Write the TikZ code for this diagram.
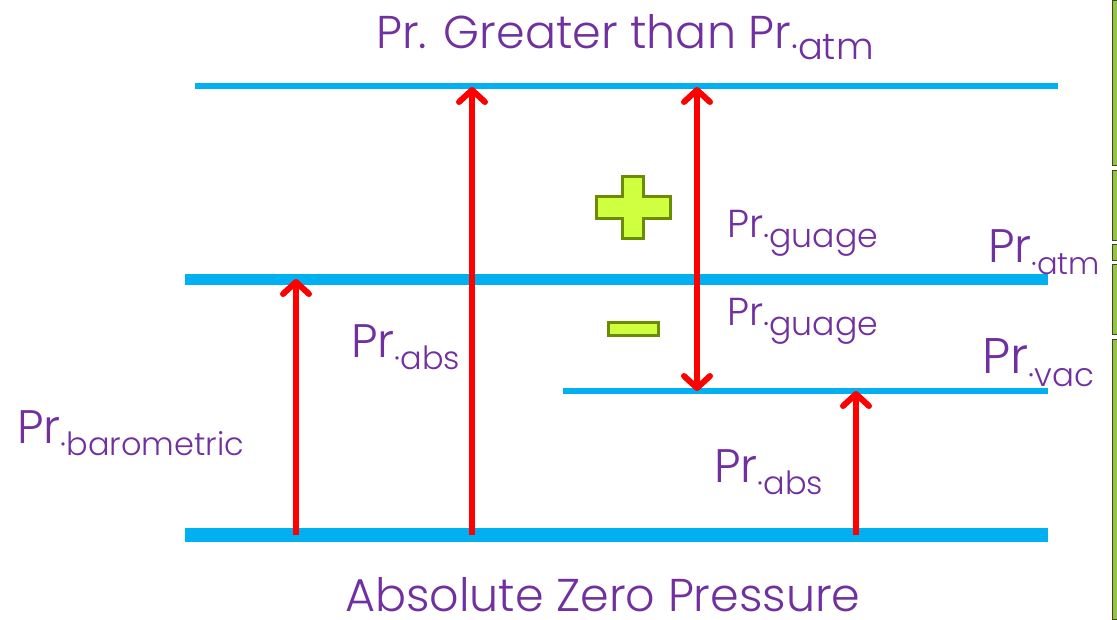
\documentclass[tikz,border=0pt]{standalone}
\usepackage{fontspec}
\setmainfont{Poppins}[UprightFont=* Light]
\usepackage{graphicx}
\usetikzlibrary{arrows.meta}
\definecolor{cline}{RGB}{  0,176,240}
\definecolor{ctext}{RGB}{112, 48,160}
\definecolor{carrow}{RGB}{255,  0,  0}
\definecolor{csignf}{RGB}{208,255, 64}
\definecolor{csignd}{RGB}{108,140,  0}
\definecolor{cbarf}{RGB}{150,195, 70}
\definecolor{cbard}{RGB}{ 60, 70, 40}
% pressure label: "Pr" with a lowered, smaller ".sub"
\newcommand{\prlab}[2][0.65]{Pr\raisebox{-0.26em}{\scalebox{#1}{·#2}}}
\tikzset{
  level/.style={cline,line cap=butt},
  parrow/.style={carrow,line width=6pt,-{Straight Barb[length=12pt,width=26pt,round]}},
  pdarrow/.style={carrow,line width=6pt,{Straight Barb[length=12pt,width=26pt,round]}-{Straight Barb[length=12pt,width=26pt,round]}},
  plabel/.style={ctext,anchor=base west,inner sep=0pt,text depth=0pt},
  sign/.style={fill=csignf,draw=csignd,line width=3pt}
}

\begin{document}
\begin{tikzpicture}[x=1pt,y=-1pt]

  % Explicit bounding box, same size as the slide crop.
  \useasboundingbox (0,0) rectangle (1117,619);

  % ---------------- Pressure levels ----------------
  \coordinate (topL) at (195,86);   \coordinate (topR) at (1058,86);
  \coordinate (atmL) at (185,279);  \coordinate (atmR) at (1048,279);
  \coordinate (vacL) at (563,391);  \coordinate (vacR) at (1048,391);
  \coordinate (zeroL) at (185,535); \coordinate (zeroR) at (1048,535);
  \draw[level,line width=6pt]  (topL) -- (topR);
  \draw[level,line width=11pt] (atmL) -- (atmR);
  \draw[level,line width=6pt]  (vacL) -- (vacR);
  \draw[level,line width=14pt] (zeroL) -- (zeroR);

  % ---------------- Arrows ----------------
  \coordinate (baroB) at (296,535); \coordinate (baroT) at (296,279);
  \coordinate (absB)  at (472,535); \coordinate (absT)  at (472,87);
  \coordinate (gauT)  at (697,87);  \coordinate (gauB)  at (697,391);
  \coordinate (vabsB) at (856,535); \coordinate (vabsT) at (856,391);
  \draw[parrow]  (baroB) -- (baroT);
  \draw[parrow]  (absB) -- (absT);
  \draw[pdarrow] (gauT) -- (gauB);
  \draw[parrow]  (vabsB) -- (vabsT);

  % ---------------- Plus / minus signs ----------------
  \draw[sign] (622,176) -- (643,176) -- (643,196) -- (670,196) -- (670,218)
    -- (643,218) -- (643,238) -- (622,238) -- (622,218) -- (596,218)
    -- (596,196) -- (622,196) -- cycle;
  \draw[sign] (608,322) rectangle (658,335);

  % ---------------- Labels ----------------
  \node[plabel,font=\fontsize{46}{50}\selectfont] (title) at (376,48) {Pr. Greater than \prlab[0.8]{atm}};
  \node[plabel,font=\fontsize{46}{48}\selectfont] (zero) at (345,611) {Absolute Zero Pressure};
  \node[plabel,font=\fontsize{47}{50}\selectfont] (baro) at (17,443) {\prlab[0.68]{barometric}};
  \node[plabel,font=\fontsize{47}{50}\selectfont] (absl) at (351,357) {\prlab[0.68]{abs}};
  \node[plabel,font=\fontsize{47}{50}\selectfont] (absr) at (714,482) {\prlab[0.68]{abs}};
  \node[plabel,font=\fontsize{39}{42}\selectfont] (gaup) at (727,237) {\prlab[0.85]{guage}};
  \node[plabel,font=\fontsize{39}{42}\selectfont] (gaun) at (727,325) {\prlab[0.85]{guage}};
  \node[plabel,font=\fontsize{47}{50}\selectfont] (atm) at (988,262) {\prlab{atm}};
  \node[plabel,font=\fontsize{50}{52}\selectfont] (vac) at (982,373) {\prlab{vac}};

  % ---------------- Slide edge bar ----------------
  \foreach \ya/\yb in {0/165,170/240,244/260,264/334,339/619}
    \filldraw[fill=cbarf,draw=cbard,line width=1pt] (1112.5,\ya) rectangle (1117,\yb);

\end{tikzpicture}
\end{document}
